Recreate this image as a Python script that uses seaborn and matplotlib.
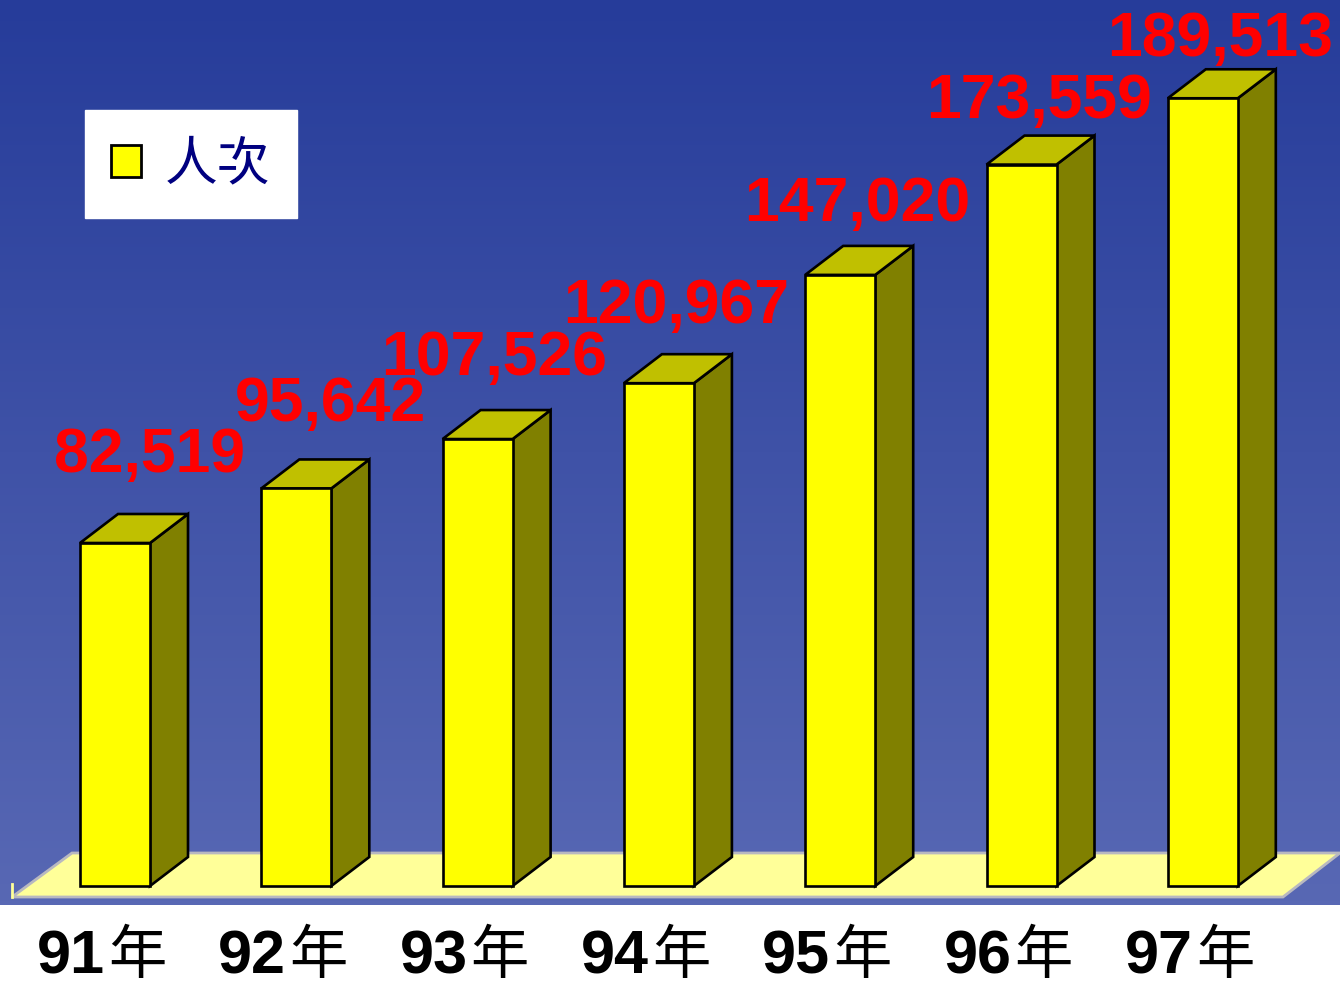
import numpy as np
import matplotlib.pyplot as plt
import seaborn as sns
from matplotlib.patches import Polygon, Patch

# %% data
years = ['91', '92', '93', '94', '95', '96', '97']
year_suffix = '年'
visits = [82519, 95642, 107526, 120967, 147020, 173559, 189513]
series_name = '人次'

# %% figure setup
W, H = 1340, 989
fig = plt.figure(figsize=(W / 100, H / 100), dpi=100, facecolor='white')
ax = fig.add_axes([0, 0, 1, 1])

# pixel <-> data mapping: bar i centred at px 115 + 181.3*i, value 0 at px 886
px_per_cat = 181.3
px_per_val = 343 / 82519

def set_limits():
    ax.set_xlim(-115 / px_per_cat, (W - 115) / px_per_cat)
    ax.set_ylim((886 - H) / px_per_val, 886 / px_per_val)

def px_to_data(px, py):
    return (px - 115) / px_per_cat, (886 - py) / px_per_val

set_limits()

# background gradient (blue) down to y=905 px, white below
top_c = np.array([38, 60, 154]) / 255
bot_c = np.array([88, 104, 180]) / 255
t = np.linspace(0, 1, 256)[:, None]
grad = (top_c * (1 - t) + bot_c * t)[:, None, :]
ax.imshow(grad, extent=(0, 1, 1 - 905 / H, 1), transform=ax.transAxes,
          aspect='auto', zorder=0)

# floor
floor_px = [(12, 897), (1283, 897), (1340, 853), (72, 853)]
ax.add_patch(Polygon([px_to_data(*p) for p in floor_px], closed=True,
                     facecolor='#FFFF99', edgecolor='#B8B8C0', lw=2, zorder=1))
ax.plot(*zip(px_to_data(12, 884), px_to_data(12, 897)), color='#FFFF99', lw=2, zorder=1)

# front faces
edge_lw = 1.9
sns.barplot(x=years, y=visits, color='#FFFF00', edgecolor='black', linewidth=edge_lw,
            width=70 / px_per_cat, saturation=1, ax=ax, zorder=3)
ax.set_axis_off()
set_limits()

# side + top faces
dx = 38 / px_per_cat
dy = 29 / px_per_val
for p in ax.patches[1:]:
    if p.get_width() == 0:
        continue
    x0, w, h = p.get_x(), p.get_width(), p.get_height()
    x1 = x0 + w
    side = [(x1, 0), (x1 + dx, dy), (x1 + dx, h + dy), (x1, h)]
    top = [(x0, h), (x1, h), (x1 + dx, h + dy), (x0 + dx, h + dy)]
    ax.add_patch(Polygon(side, closed=True, facecolor='#808000', edgecolor='black',
                         lw=edge_lw, zorder=2.9))
    ax.add_patch(Polygon(top, closed=True, facecolor='#C0C000', edgecolor='black',
                         lw=edge_lw, zorder=2.9))

# value labels
for i, v in enumerate(visits):
    ax.text(i + 130 / px_per_cat, 0.935 * v + 22445, f'{v:,}', ha='right',
            va='baseline', color='red', fontsize=45, fontweight='bold',
            family=['Liberation Sans', 'DejaVu Sans'], zorder=5)

# category labels: bold digits + regular 年
base_y = px_to_data(0, 973)[1]
for i, yr in enumerate(years):
    xs = i - 10 / px_per_cat
    ax.text(xs, base_y, yr, ha='right', va='baseline', color='black',
            fontsize=44, fontweight='bold', family='Liberation Sans', zorder=5)
    ax.text(xs + 3 / px_per_cat, base_y, year_suffix, ha='left', va='baseline',
            color='black', fontsize=42, family='Noto Sans CJK TC', zorder=5)

# legend
leg = ax.legend(handles=[Patch(facecolor='#FFFF00', edgecolor='black', lw=2,
                               label=series_name)],
                loc='upper left', bbox_to_anchor=(85 / W, 1 - 110 / H),
                bbox_transform=fig.transFigure, borderaxespad=0,
                prop={'family': ['Noto Sans CJK TC'], 'size': 38},
                labelcolor='#000080', frameon=True, fancybox=False,
                framealpha=1, facecolor='white', edgecolor='white',
                handlelength=0.57, handleheight=0.57, handletextpad=0.45,
                borderpad=0.5)
leg.set_zorder(6)

fig.savefig('out.png', dpi=100, facecolor='white')
